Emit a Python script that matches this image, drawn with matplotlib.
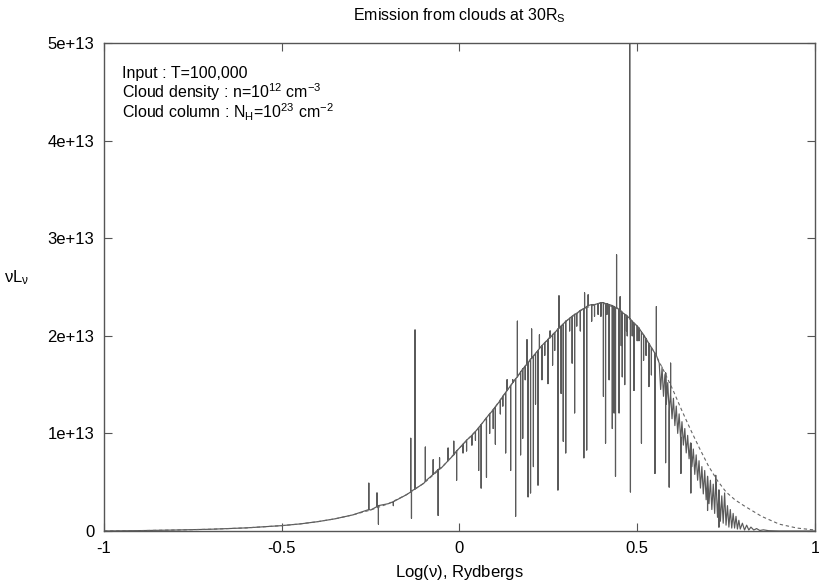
import numpy as np
import matplotlib
matplotlib.use('Agg')
import matplotlib.pyplot as plt

plt.rcParams['font.family'] = ['Liberation Sans', 'DejaVu Sans']

# incident continuum (dashed), units of 1e13
cont_x = [-1.0, -0.9, -0.8, -0.7, -0.6, -0.5, -0.45, -0.4, -0.35, -0.3, -0.25, -0.2,
          -0.15, -0.1, -0.05, 0.0, 0.05, 0.1, 0.15, 0.2, 0.25, 0.3, 0.35, 0.4, 0.45,
          0.5, 0.525, 0.55, 0.575, 0.6, 0.625, 0.65, 0.675, 0.7, 0.725, 0.75, 0.775,
          0.8, 0.85, 0.9, 0.95, 1.0]
cont_y = [0.0, 0.004, 0.01, 0.018, 0.032, 0.055, 0.072, 0.095, 0.125, 0.165, 0.215, 0.28,
          0.37, 0.49, 0.65, 0.85, 1.04, 1.27, 1.52, 1.76, 1.97, 2.15, 2.28, 2.34, 2.27,
          2.10, 1.97, 1.82, 1.64, 1.45, 1.24, 1.04, 0.85, 0.67, 0.52, 0.40, 0.32,
          0.26, 0.15, 0.07, 0.03, 0.01]

# emergent spectrum: dense blended region on the high energy side
osc_x = [0.562, 0.566, 0.570, 0.574, 0.578, 0.582, 0.586, 0.590, 0.594, 0.598, 0.602,
         0.606, 0.610, 0.614, 0.618, 0.622, 0.626, 0.630, 0.634, 0.638, 0.642, 0.646,
         0.650, 0.654, 0.658, 0.662, 0.666, 0.670, 0.674, 0.678, 0.682, 0.686, 0.690,
         0.694, 0.698, 0.702, 0.706, 0.710, 0.714, 0.718, 0.722, 0.726, 0.730, 0.734,
         0.738, 0.742, 0.746, 0.750, 0.754, 0.758, 0.762, 0.766, 0.770, 0.774, 0.778,
         0.782, 0.786, 0.790, 0.796, 0.802, 0.808, 0.814, 0.820, 0.828, 0.836, 0.845,
         0.855, 0.870, 0.900, 1.000]
osc_y = [1.72, 1.45, 1.68, 1.38, 1.60, 1.30, 1.52, 1.22, 1.42, 1.15, 1.36,
         1.08, 1.28, 1.00, 1.20, 0.96, 1.12, 0.88, 1.05, 0.80, 0.98, 0.74,
         0.90, 0.66, 0.84, 0.58, 0.78, 0.52, 0.72, 0.44, 0.66, 0.38, 0.62,
         0.32, 0.56, 0.28, 0.52, 0.22, 0.48, 0.18, 0.50, 0.14, 0.42, 0.10,
         0.36, 0.08, 0.39, 0.06, 0.26, 0.04, 0.22, 0.03, 0.18, 0.03, 0.15,
         0.02, 0.11, 0.02, 0.08, 0.01, 0.06, 0.01, 0.04, 0.01, 0.025, 0.005,
         0.012, 0.003, 0.0, 0.0]

# lines: position, local continuum, line tip
line_x = [-0.255, -0.232, -0.228, -0.186, -0.137, -0.135, -0.125, -0.096, -0.074, -0.060,
          -0.056, -0.032, -0.016, -0.008, 0.010, 0.020, 0.035, 0.045, 0.054, 0.061,
          0.076, 0.085, 0.095, 0.101, 0.115, 0.122, 0.130, 0.134, 0.144, 0.150,
          0.158, 0.163, 0.172, 0.178, 0.185, 0.190, 0.193, 0.200, 0.203, 0.208,
          0.214, 0.221, 0.225, 0.232, 0.240, 0.249, 0.255, 0.262, 0.268, 0.277,
          0.280, 0.286, 0.292, 0.299, 0.310, 0.317, 0.324, 0.330, 0.340, 0.350,
          0.352, 0.358, 0.362, 0.372, 0.380, 0.390, 0.398, 0.405, 0.411, 0.415,
          0.421, 0.430, 0.435, 0.439, 0.442, 0.449, 0.452, 0.455, 0.458, 0.465,
          0.470, 0.472, 0.479, 0.481, 0.486, 0.491, 0.500, 0.505, 0.512, 0.518,
          0.525, 0.533, 0.540, 0.550, 0.554, 0.580, 0.590, 0.594, 0.623, 0.651,
          0.698, 0.721, 0.730]
line_base = [0.22, 0.25, 0.26, 0.30, 0.40, 0.41, 0.43, 0.51, 0.58, 0.63,
             0.64, 0.72, 0.78, 0.82, 0.89, 0.93, 0.98, 1.02, 1.06, 1.09,
             1.16, 1.20, 1.24, 1.27, 1.34, 1.38, 1.42, 1.44, 1.49, 1.52,
             1.56, 1.58, 1.63, 1.66, 1.69, 1.71, 1.72, 1.76, 1.77, 1.79,
             1.82, 1.85, 1.87, 1.90, 1.93, 1.96, 1.98, 2.01, 2.03, 2.07,
             2.08, 2.10, 2.12, 2.15, 2.18, 2.20, 2.22, 2.23, 2.26, 2.28,
             2.28, 2.30, 2.31, 2.32, 2.32, 2.33, 2.34, 2.34, 2.33, 2.33,
             2.32, 2.31, 2.30, 2.29, 2.29, 2.27, 2.26, 2.25, 2.24, 2.22,
             2.21, 2.20, 2.18, 2.17, 2.15, 2.13, 2.10, 2.08, 2.04, 2.01,
             1.97, 1.92, 1.88, 1.82, 1.80, 1.62, 1.22, 1.42, 0.96, 0.90,
             0.56, 0.50, 0.42]
line_tip = [0.49, 0.39, 0.07, 0.26, 0.95, 0.13, 2.06, 0.86, 0.73, 0.16,
            0.75, 0.85, 0.92, 0.52, 0.80, 0.82, 0.88, 0.93, 0.62, 0.44,
            0.55, 1.00, 1.05, 0.89, 1.20, 1.28, 0.80, 1.55, 0.62, 1.55,
            0.15, 2.15, 0.78, 0.95, 1.55, 1.96, 0.35, 0.39, 2.07, 0.66,
            1.30, 0.47, 2.01, 1.55, 1.80, 1.51, 2.05, 1.70, 1.85, 0.42,
            2.41, 1.41, 0.92, 0.80, 2.05, 1.72, 1.21, 2.10, 2.05, 0.75,
            2.44, 0.83, 2.42, 2.15, 2.20, 2.22, 2.20, 1.38, 0.90, 2.22,
            1.55, 1.05, 1.21, 0.56, 2.83, 1.21, 2.40, 1.90, 1.58, 1.50,
            2.05, 2.00, 5.50, 0.40, 2.00, 1.44, 1.95, 1.95, 0.90, 1.75,
            1.80, 1.48, 1.60, 0.59, 2.30, 0.70, 0.45, 1.72, 0.59, 0.39,
            0.21, 0.57, 0.04]

# build emergent spectrum path
px = [x for x in cont_x if x < 0.56] + osc_x
py = [y for x, y in zip(cont_x, cont_y) if x < 0.56] + osc_y
for x, b, t in zip(line_x, line_base, line_tip):
    px += [x, x, x]
    py += [b, t, b]
order = np.argsort(np.array(px), kind='stable')
spec_x = np.array(px)[order]
spec_y = np.array(py)[order] * 1e13

fig = plt.figure(figsize=(8.19, 5.85), dpi=100)
ax = fig.add_axes([0.127, 0.0923, 0.868, 0.8342])

ax.plot(spec_x, spec_y, color='#5a5a5a', lw=0.85)
ax.plot(cont_x, np.array(cont_y) * 1e13, color='#666666', lw=0.8, ls=(0, (3, 2.5)))

ax.set_xlim(-1, 1)
ax.set_ylim(0, 5e13)
ax.set_xticks([-1, -0.5, 0, 0.5, 1])
ax.set_xticklabels(['-1', '-0.5', '0', '0.5', '1'])
ax.set_yticks([0, 1e13, 2e13, 3e13, 4e13, 5e13])
ax.set_yticklabels(['0', '1e+13', '2e+13', '3e+13', '4e+13', '5e+13'])
ax.tick_params(direction='in', top=True, right=True, length=6, width=0.8,
               color='#555555', labelsize=12, pad=7)
for s in ax.spines.values():
    s.set_color('#555555')
    s.set_linewidth(1.0)

ax.set_title('Emission from clouds at 30R$_\\mathregular{S}$', fontsize=11.5, pad=16)
ax.set_xlabel('Log($\\mathregular{\\nu}$), Rydbergs', fontsize=12, labelpad=5)
ax.set_ylabel('$\\mathregular{\\nu L_\\nu}$', fontsize=12, rotation=0, labelpad=22)

ax.text(0.025, 0.928, 'Input : T=100,000', transform=ax.transAxes, fontsize=11.5,
        va='baseline')
ax.text(0.025, 0.887, 'Cloud density : n=10$^{\\mathregular{12}}$ cm$^{\\mathregular{-3}}$',
        transform=ax.transAxes, fontsize=11.5, va='baseline')
ax.text(0.025, 0.845, 'Cloud column : N$_\\mathregular{H}$=10$^{\\mathregular{23}}$ cm$^{\\mathregular{-2}}$',
        transform=ax.transAxes, fontsize=11.5, va='baseline')

fig.savefig('out.png', dpi=100)
